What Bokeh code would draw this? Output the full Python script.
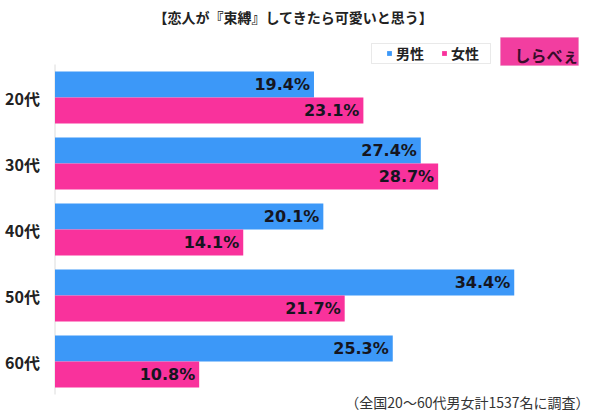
from bokeh.plotting import figure
from bokeh.models import (Range1d, ColumnDataSource, Label, Legend,
                          LegendItem, BoxAnnotation)
from bokeh.core.properties import value
from bokeh.embed import file_html
from bokeh.resources import INLINE

# ---- data ----
categories = ["20代", "30代", "40代", "50代", "60代"]
male = [19.4, 27.4, 20.1, 34.4, 25.3]
female = [23.1, 28.7, 14.1, 21.7, 10.8]
series_names = ["男性", "女性"]
title_text = "【恋人が『束縛』してきたら可愛いと思う】"
note_text = "（全国20～60代男女計1537名に調査）"
logo_text = "しらべぇ"

# ---- layout constants (pixels) ----
W, H = 600, 420
X0_PX = 54.5        # where 0% sits
PX_PER_PCT = 13.35
Y0_PX = 97          # centre of first group
GROUP_PX = 66
BAR_PX = 26

BLUE = "#3C98F8"
PINK = "#F9329C"
JP = "Noto Sans CJK JP"

idx = list(range(len(categories)))
off = (BAR_PX / 2) / GROUP_PX
bh = BAR_PX / GROUP_PX

src = ColumnDataSource(dict(
    cat=categories, i=idx,
    ym=[i - off for i in idx], yf=[i + off for i in idx],
    male=male, female=female,
    male_lbl=[f"{v:.1f}%" for v in male],
    female_lbl=[f"{v:.1f}%" for v in female],
    zero=[0] * len(idx),
))

p = figure(width=W, height=H,
           x_range=Range1d(-X0_PX / PX_PER_PCT, (W - X0_PX) / PX_PER_PCT),
           y_range=Range1d((H - Y0_PX) / GROUP_PX, -Y0_PX / GROUP_PX),
           output_backend="svg", toolbar_location=None,
           min_border=0, min_border_left=0, min_border_right=0,
           min_border_top=0, min_border_bottom=0)
p.axis.visible = False
p.grid.visible = False
p.outline_line_color = None
p.background_fill_color = "white"
p.border_fill_color = "white"

# axis line
p.segment(x0=0, y0=-0.5, x1=0, y1=len(categories) - 0.5,
          line_color="#dcdcdc", line_width=1)

rm = p.hbar(y="ym", left=0, right="male", height=bh,
            fill_color=BLUE, line_color=None, source=src)
rf = p.hbar(y="yf", left=0, right="female", height=bh,
            fill_color=PINK, line_color=None, source=src)

for col, lbl, ycol in (("male", "male_lbl", "ym"), ("female", "female_lbl", "yf")):
    p.text(x=col, y=ycol, text=lbl, source=src,
           text_align="right", text_baseline="middle", x_offset=-4,
           text_font=value("DejaVu Sans"), text_font_style="bold",
           text_font_size="16px", text_color="#151520")

# category labels
p.text(x="zero", y="i", text="cat", source=src,
       text_align="right", text_baseline="middle", x_offset=-15,
       text_font=value(JP), text_font_style="bold",
       text_font_size="16px", text_color="#222222")

def sy(y):
    return H - y

# legend border box
p.add_layout(BoxAnnotation(left=371, right=490, top=sy(43), bottom=sy(63),
                           left_units="screen", right_units="screen",
                           top_units="screen", bottom_units="screen",
                           fill_color="white", fill_alpha=1.0,
                           line_color="#b5b5b5", line_width=1))

legend = Legend(items=[LegendItem(label=series_names[0], renderers=[rm]),
                       LegendItem(label=series_names[1], renderers=[rf])],
                orientation="horizontal", location=(386, sy(63)),
                padding=0, margin=0, spacing=17,
                glyph_width=6, glyph_height=6, label_standoff=4,
                label_height=20,
                label_text_font=JP, label_text_font_size="14px",
                label_text_font_style="bold", label_text_color="#222222",
                border_line_alpha=0, background_fill_alpha=0)
p.add_layout(legend, "center")

# logo
p.add_layout(BoxAnnotation(left=500, right=578, top=sy(37), bottom=sy(65),
                           left_units="screen", right_units="screen",
                           top_units="screen", bottom_units="screen",
                           fill_color="#F23EA0", fill_alpha=1.0,
                           line_color="#e070b0", line_width=1))
p.add_layout(Label(x=546, y=sy(54), x_units="screen", y_units="screen",
                   text=logo_text, text_align="center", text_baseline="middle",
                   text_font=JP, text_font_size="16px", text_font_style="bold",
                   text_color="#3a0d2b"))

# title
p.add_layout(Label(x=293, y=sy(16), x_units="screen", y_units="screen",
                   text=title_text, text_align="center", text_baseline="middle",
                   text_font=JP, text_font_size="14px", text_font_style="bold",
                   text_color="#222222"))

# footnote
p.add_layout(Label(x=589, y=sy(401), x_units="screen", y_units="screen",
                   text=note_text, text_align="right", text_baseline="middle",
                   text_font=JP, text_font_size="14px",
                   text_color="#333333"))

open("out.html", "w").write(file_html(p, INLINE))
